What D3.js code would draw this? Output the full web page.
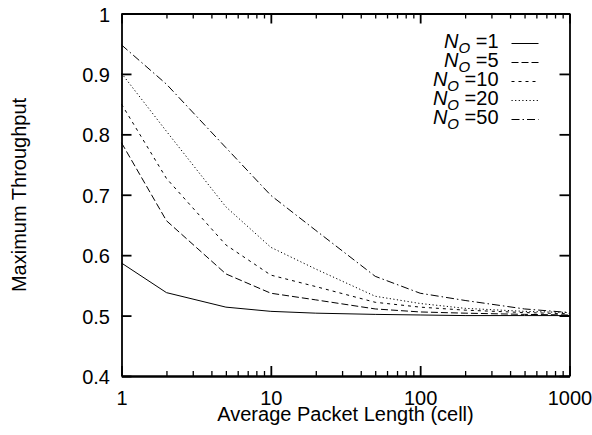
<!DOCTYPE html>
<html>
<head>
<meta charset="utf-8">
<script src="https://cdn.jsdelivr.net/npm/d3@7"></script>
<style>
  body { margin: 0; background: #fff; }
  text { font-family: "Liberation Sans", Arial, sans-serif; fill: #000; }
  .axis path, .axis line { stroke: #000; stroke-width: 1.8px; }
  .minor line { stroke-width: 1.3px; }
  .line { fill: none; stroke: #000; stroke-width: 1px; }
</style>
</head>
<body>
<div id="chart"></div>
<script>
var margin = {top: 13.5, right: 22.5, bottom: 59, left: 121.5},
width = 592 - margin.left - margin.right,
height = 435 - margin.top - margin.bottom;

// average packet length (cell)
let lengths = [1, 2, 5, 10, 20, 50, 100, 200, 500, 1000]

let n1  = [0.587, 0.538, 0.514, 0.507, 0.504, 0.502, 0.501, 0.500, 0.500, 0.500]
let n5  = [0.786, 0.657, 0.569, 0.537, 0.526, 0.511, 0.506, 0.504, 0.502, 0.501]
let n10 = [0.850, 0.727, 0.617, 0.567, 0.548, 0.522, 0.514, 0.509, 0.505, 0.503]
let n20 = [0.901, 0.805, 0.680, 0.613, 0.577, 0.532, 0.520, 0.512, 0.507, 0.505]
let n50 = [0.948, 0.883, 0.778, 0.699, 0.641, 0.565, 0.537, 0.525, 0.511, 0.505]

let seriesNames = ["1", "5", "10", "20", "50"]
let seriesValues = [n1, n5, n10, n20, n50]
let dashes = ["none", "7,3", "3,4", "1.2,2.4", "8,3,1.5,3"]

let xMajor = [1, 10, 100, 1000]
let xMinor = [2, 3, 4, 5, 6, 7, 8, 9, 20, 30, 40, 50, 60, 70, 80, 90, 200, 300, 400, 500, 600, 700, 800, 900]
let yTicks = [0.4, 0.5, 0.6, 0.7, 0.8, 0.9, 1]

var fs = 20

var svg = d3.select("#chart")
  .append("svg")
    .attr("width", width + margin.left + margin.right)
    .attr("height", height + margin.top + margin.bottom)
  .append("g")
    .attr("transform", "translate(" + margin.left + "," + margin.top + ")");

var x = d3.scaleLog()
  .domain([1, 1000])
  .range([0, width]);

var y = d3.scaleLinear()
  .domain([0.4, 1])
  .range([height, 0]);

// axes, ticks pointing inward on all four sides
svg.append("g")
  .attr("class", "axis")
  .attr("transform", "translate(0," + height + ")")
  .call(d3.axisBottom(x).tickValues(xMajor).tickFormat(d3.format("d")).tickSize(-10).tickSizeOuter(0).tickPadding(15))
  .call(g => g.selectAll("text").attr("font-size", fs));

svg.append("g")
  .attr("class", "axis minor")
  .attr("transform", "translate(0," + height + ")")
  .call(d3.axisBottom(x).tickValues(xMinor).tickFormat("").tickSize(-5).tickSizeOuter(0));

svg.append("g")
  .attr("class", "axis")
  .call(d3.axisTop(x).tickValues(xMajor).tickFormat("").tickSize(-10).tickSizeOuter(0));

svg.append("g")
  .attr("class", "axis minor")
  .call(d3.axisTop(x).tickValues(xMinor).tickFormat("").tickSize(-5).tickSizeOuter(0));

svg.append("g")
  .attr("class", "axis")
  .call(d3.axisLeft(y).tickValues(yTicks).tickFormat(d => d === 1 ? "1" : d3.format(".1f")(d)).tickSize(-10).tickSizeOuter(0).tickPadding(11.5))
  .call(g => g.selectAll("text").attr("font-size", fs).attr("dy", "0.38em"));

svg.append("g")
  .attr("class", "axis")
  .attr("transform", "translate(" + width + ",0)")
  .call(d3.axisRight(y).tickValues(yTicks).tickFormat("").tickSize(-10).tickSizeOuter(0));

// curves
var line = d3.line()
  .x((d, i) => x(lengths[i]))
  .y(d => y(d));

seriesValues.forEach(function(vals, k) {
  svg.append("path")
    .datum(vals)
    .attr("class", "line")
    .attr("stroke-dasharray", dashes[k])
    .attr("d", line);
});

// legend
var legend = svg.append("g")
  .attr("transform", "translate(" + (width - 71) + ",30)");

seriesNames.forEach(function(name, k) {
  var row = legend.append("g").attr("transform", "translate(0," + (k * 19) + ")");
  var t = row.append("text")
    .attr("x", 0)
    .attr("y", 4)
    .attr("text-anchor", "end")
    .attr("font-size", fs);
  t.append("tspan").attr("font-style", "italic").text("N");
  t.append("tspan").attr("font-style", "italic").attr("font-size", 15).attr("dy", 5).text("O");
  t.append("tspan").attr("dy", -5).text(" =" + name);
  row.append("line")
    .attr("class", "line")
    .attr("x1", 13).attr("x2", 40)
    .attr("y1", 0).attr("y2", 0)
    .attr("stroke-dasharray", dashes[k]);
});

// axis titles
svg.append("text")
  .attr("x", width / 2)
  .attr("y", height + 45)
  .attr("text-anchor", "middle")
  .attr("font-size", fs)
  .text("Average Packet Length (cell)");

svg.append("text")
  .attr("transform", "translate(" + (26 - margin.left) + "," + (195 - margin.top) + ") rotate(-90)")
  .attr("text-anchor", "middle")
  .attr("font-size", fs)
  .text("Maximum Throughput");
</script>
</body>
</html>
